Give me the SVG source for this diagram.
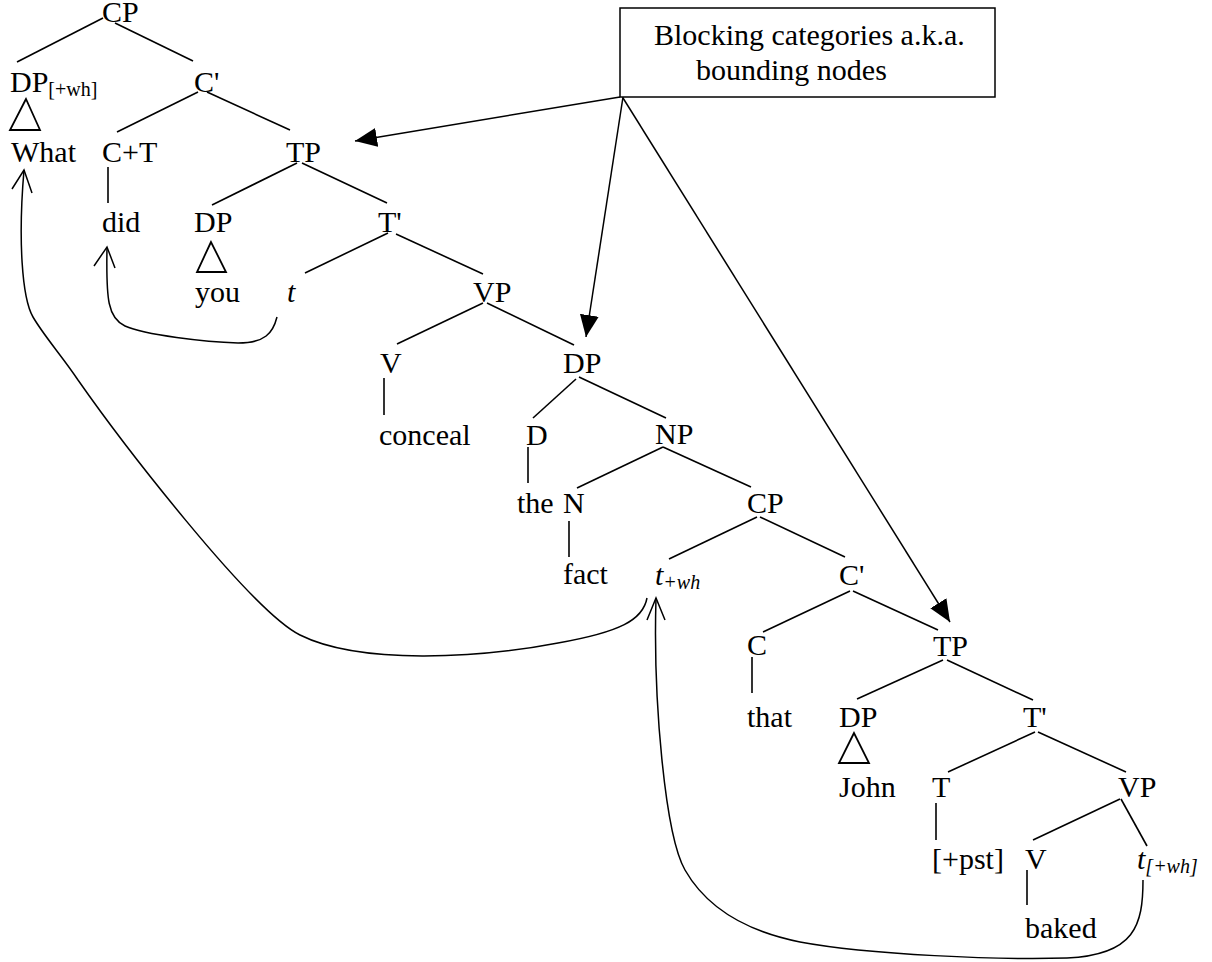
<svg xmlns="http://www.w3.org/2000/svg" width="1212" height="962" viewBox="0 0 1212 962">
<style>
text{font-family:"Liberation Serif","Times New Roman",serif;font-size:30px;fill:#000}
.it{font-style:italic}
.sub{font-size:20px}
.e{stroke:#000;stroke-width:1.6;fill:none}
.tri{stroke:#000;stroke-width:1.8;fill:none}
.mv{stroke:#000;stroke-width:1.5;fill:none}
.ptr{stroke:#000;stroke-width:1.5;fill:none;marker-end:url(#ah)}
</style>
<defs>
<marker id="ah" markerUnits="userSpaceOnUse" markerWidth="24" markerHeight="20" refX="22" refY="9.5" orient="auto">
<path d="M0,0 L22,9.5 L0,19 z" fill="#000"/>
</marker>
</defs>
<rect width="1212" height="962" fill="#fff"/>
<g id="box">
<rect x="620" y="8" width="375" height="89" fill="#fff" stroke="#000" stroke-width="1.5"/>
<text x="654" y="45">Blocking categories a.k.a.</text>
<text x="696" y="80">bounding nodes</text>
</g>
<g id="n-cp1"><text x="102" y="22">CP</text></g>
<g id="n-dpwh"><text x="10" y="92">DP<tspan class="sub" dy="4">[+wh]</tspan></text><polygon class="tri" points="26,99 10,130 40,130"/></g>
<g id="n-what"><text x="11" y="162">What</text></g>
<g id="n-cbar1"><text x="194" y="92">C'</text></g>
<g id="n-ct"><text x="102" y="162">C+T</text></g>
<g id="n-tp1"><text x="286" y="162">TP</text></g>
<g id="n-did"><text x="102" y="232">did</text></g>
<g id="n-dp1"><text x="194" y="232">DP</text><polygon class="tri" points="211,242 197,272 226,272"/></g>
<g id="n-tbar1"><text x="378" y="232">T'</text></g>
<g id="n-you"><text x="195" y="302">you</text></g>
<g id="n-t1"><text class="it" x="287" y="302">t</text></g>
<g id="n-vp1"><text x="473" y="302">VP</text></g>
<g id="n-v1"><text x="380" y="373">V</text></g>
<g id="n-dp2"><text x="563" y="373">DP</text></g>
<g id="n-conceal"><text x="379" y="445">conceal</text></g>
<g id="n-d"><text x="526" y="445">D</text></g>
<g id="n-np"><text x="655" y="444">NP</text></g>
<g id="n-the"><text x="517" y="513">the</text></g>
<g id="n-n"><text x="563" y="513">N</text></g>
<g id="n-fact"><text x="563" y="584">fact</text></g>
<g id="n-twh1"><text class="it" x="655" y="585">t<tspan class="sub" dy="4">+wh</tspan></text></g>
<g id="n-cp2"><text x="747" y="513">CP</text></g>
<g id="n-cbar2"><text x="839" y="585">C'</text></g>
<g id="n-c"><text x="747" y="655">C</text></g>
<g id="n-tp2"><text x="933" y="656">TP</text></g>
<g id="n-that"><text x="747" y="727">that</text></g>
<g id="n-dp3"><text x="839" y="727">DP</text><polygon class="tri" points="854,733 839,763 869,763"/></g>
<g id="n-tbar2"><text x="1023" y="727">T'</text></g>
<g id="n-john"><text x="839" y="797">John</text></g>
<g id="n-t2"><text x="932" y="797">T</text></g>
<g id="n-vp2"><text x="1118" y="797">VP</text></g>
<g id="n-pst"><text x="932" y="869">[+pst]</text></g>
<g id="n-v2"><text x="1025" y="869">V</text></g>
<g id="n-twh2"><text class="it" x="1137" y="869">t<tspan class="sub" dy="4">[+wh]</tspan></text></g>
<g id="n-baked"><text x="1025" y="938">baked</text></g>
<g id="connectors">
<g class="e">
<line x1="103" y1="18" x2="17" y2="62"/>
<line x1="115" y1="23" x2="193" y2="61"/>
<line x1="198" y1="92" x2="117" y2="132"/>
<line x1="207" y1="92" x2="290" y2="130"/>
<line x1="108" y1="167" x2="108" y2="203"/>
<line x1="297" y1="163" x2="212" y2="205"/>
<line x1="302" y1="163" x2="387" y2="203"/>
<line x1="388" y1="233" x2="305" y2="273"/>
<line x1="396" y1="234" x2="483" y2="274"/>
<line x1="483" y1="303" x2="397" y2="344"/>
<line x1="487" y1="303" x2="574" y2="345"/>
<line x1="384" y1="378" x2="384" y2="415"/>
<line x1="576" y1="379" x2="533" y2="418"/>
<line x1="579" y1="377" x2="666" y2="418"/>
<line x1="528" y1="447" x2="528" y2="483"/>
<line x1="663" y1="447" x2="577" y2="488"/>
<line x1="663" y1="447" x2="751" y2="487"/>
<line x1="569" y1="521" x2="569" y2="557"/>
<line x1="757" y1="517" x2="669" y2="559"/>
<line x1="760" y1="517" x2="845" y2="557"/>
<line x1="850" y1="591" x2="763" y2="632"/>
<line x1="853" y1="591" x2="938" y2="630"/>
<line x1="752" y1="657" x2="752" y2="693"/>
<line x1="943" y1="660" x2="857" y2="699"/>
<line x1="947" y1="660" x2="1033" y2="700"/>
<line x1="1035" y1="732" x2="948" y2="772"/>
<line x1="1038" y1="732" x2="1126" y2="772"/>
<line x1="936" y1="803" x2="936" y2="840"/>
<line x1="1120" y1="799" x2="1033" y2="840"/>
<line x1="1121" y1="799" x2="1147" y2="846"/>
<line x1="1027" y1="870" x2="1027" y2="905"/>
</g>
<g class="ptr">
<line x1="620" y1="97" x2="355" y2="141"/>
<line x1="623" y1="97" x2="586" y2="337"/>
<line x1="623" y1="98" x2="950" y2="622"/>
</g>
<g class="mv">
<path d="M277,317 C273,333 265,343 238,343 C205,342 145,335 125,326 C108,318 106,300 107,248"/>
<polyline points="94,266 107,247 115,268"/>
<path d="M647,598 C643,620 620,632 558,643 C480,658 360,665 300,635 C250,610 120,440 78,380 C62,356 44,336 33,317 C22,298 18,240 24,170"/>
<polyline points="12,189 24,170 32,193"/>
<path d="M1143,880 C1143,925 1135,955 1067,958 C1000,960 870,955 800,942 C740,930 705,905 685,870 C665,835 653,700 656,598"/>
<polyline points="647,620 656,598 665,620"/>
</g>
</g>
</svg>
